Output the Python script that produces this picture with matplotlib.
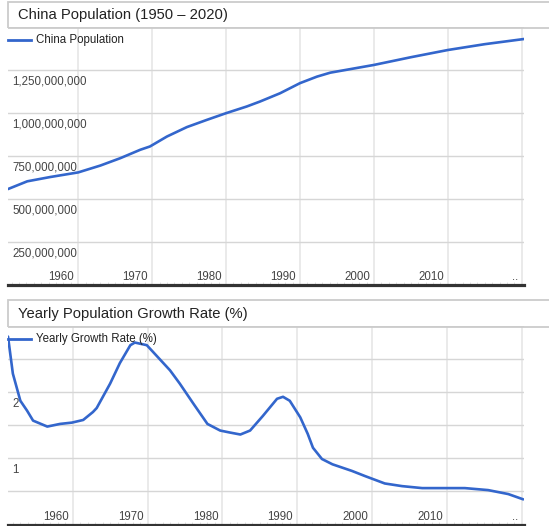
import matplotlib
matplotlib.use("Agg")
import matplotlib.pyplot as plt
from matplotlib.lines import Line2D
from matplotlib.patches import Rectangle
from matplotlib.ticker import MultipleLocator
from matplotlib.transforms import offset_copy

FIG_W, FIG_H = 549, 526
LINE_COLOR = "#3366cc"

# China population (people)
pop_years = [1950.5, 1953.1, 1956.2, 1960.0, 1963.0, 1965.7, 1968.4, 1969.7,
             1972.0, 1974.7, 1977.4, 1980.0, 1982.8, 1984.6, 1987.3, 1990.0,
             1992.3, 1994.1, 2000.0, 2005.0, 2010.0, 2015.0, 2020.3]
pop_values = [556e6, 601e6, 626e6, 653e6, 693e6, 736e6, 785e6, 804e6,
              862e6, 917e6, 959e6, 998e6, 1037e6, 1066e6, 1114e6, 1173e6,
              1211e6, 1234e6, 1279e6, 1324e6, 1366e6, 1400e6, 1430e6]

# yearly growth rate (%)
growth_years = [1951.35, 1952.0, 1953.0, 1953.9, 1954.7, 1956.6, 1958.3, 1959.9,
                1961.4, 1962.7, 1963.2, 1965.0, 1966.3, 1967.7, 1968.3, 1969.9,
                1973.0, 1974.3, 1976.1, 1978.0, 1979.7, 1981.0, 1982.4, 1983.7,
                1985.4, 1987.3, 1988.1, 1989.0, 1990.4, 1991.4, 1992.1, 1993.3,
                1994.7, 1997.3, 1999.1, 2001.7, 2004.0, 2006.7, 2010.2, 2012.4,
                2015.5, 2018.2, 2020.2]
growth_values = [2.84, 2.28, 1.87, 1.72, 1.57, 1.48, 1.52, 1.54,
                 1.58, 1.70, 1.76, 2.13, 2.44, 2.71, 2.75, 2.71,
                 2.33, 2.13, 1.83, 1.52, 1.42, 1.39, 1.36, 1.42,
                 1.64, 1.90, 1.93, 1.87, 1.62, 1.37, 1.16, 0.99,
                 0.91, 0.81, 0.73, 0.62, 0.58, 0.55, 0.55, 0.55,
                 0.52, 0.46, 0.38]

decade_ticks = [1960, 1970, 1980, 1990, 2000, 2010, 2020]
decade_labels = ["1960", "1970", "1980", "1990", "2000", "2010", ".."]

pop_ticks = [250e6, 500e6, 750e6, 1000e6, 1250e6]
pop_labels = ["250,000,000", "500,000,000", "750,000,000",
              "1,000,000,000", "1,250,000,000"]
growth_ticks = [1, 2]
growth_labels = ["1", "2"]


def fx(px):
    return px / FIG_W


def fy(py):
    return 1 - py / FIG_H


def draw_panel(fig, top, bottom, box_top, title, legend, x, y,
               xlim, ylim, ystep, yticks, ylabels):
    """Draw one Google-Charts-like panel; vertical positions in pixels."""
    # title box
    fig.add_artist(Rectangle((fx(8), fy(top + 1)), 1.2, (top + 1 - box_top) / FIG_H,
                             transform=fig.transFigure, fill=False,
                             edgecolor="#cccccc", linewidth=1.3))
    fig.text(fx(18), fy((box_top + top) / 2 + 1), title, fontsize=10.6,
             color="#222222", va="center", ha="left")

    ax = fig.add_axes([fx(8), fy(bottom), fx(516), (bottom - top) / FIG_H])
    ax.set_xlim(*xlim)
    ax.set_ylim(*ylim)
    ax.plot(x, y, color=LINE_COLOR, linewidth=1.9, solid_capstyle="round",
            solid_joinstyle="round", zorder=3)

    ax.set_xticks(decade_ticks)
    ax.xaxis.set_minor_locator(MultipleLocator(1))
    ax.yaxis.set_major_locator(MultipleLocator(ystep))
    ax.tick_params(which="major", length=0, labelbottom=False, labelleft=False)
    ax.tick_params(axis="x", which="minor", direction="in", length=2.2,
                   width=0.6, color="#dddddd")
    ax.tick_params(axis="y", which="minor", length=0)
    ax.grid(axis="y", color="#d6d6d6", linewidth=1.0)
    ax.grid(axis="x", color="#e6e6e6", linewidth=1.2)
    ax.set_axisbelow(True)
    for side in ("top", "left", "right"):
        ax.spines[side].set_visible(False)
    ax.spines["bottom"].set_color("#333333")
    ax.spines["bottom"].set_linewidth(2.3)

    ytrans = offset_copy(ax.get_yaxis_transform(), fig=fig, x=4, y=-6,
                         units="dots")
    for val, lab in zip(yticks, ylabels):
        ax.text(0, val, lab, transform=ytrans, fontsize=8.3, color="#444444",
                ha="left", va="top")
    xtrans = offset_copy(ax.get_xaxis_transform(), fig=fig, x=-4, y=5,
                         units="dots")
    for val, lab in zip(decade_ticks, decade_labels):
        ax.text(val, 0, lab, transform=xtrans, fontsize=8.3, color="#444444",
                ha="right", va="baseline")

    # legend in the top left corner
    ly = fy(top + 13)
    fig.add_artist(Line2D([fx(8), fx(31)], [ly, ly], transform=fig.transFigure,
                          color=LINE_COLOR, linewidth=2.0))
    fig.text(fx(36), ly, legend, fontsize=8.3, color="#222222",
             va="center", ha="left")
    return ax


def main():
    plt.rcParams["font.family"] = ["Liberation Sans", "DejaVu Sans"]
    fig = plt.figure(figsize=(FIG_W / 100, FIG_H / 100), dpi=100)
    fig.patch.set_facecolor("white")

    draw_panel(fig, top=27, bottom=284.5, box_top=2,
               title="China Population (1950 \u2013 2020)",
               legend="China Population", x=pop_years, y=pop_values,
               xlim=(1950.5, 2020.3), ylim=(0, 1.5e9), ystep=250e6,
               yticks=pop_ticks, ylabels=pop_labels)

    draw_panel(fig, top=326, bottom=524.5, box_top=300,
               title="Yearly Population Growth Rate (%)",
               legend="Yearly Growth Rate (%)", x=growth_years, y=growth_values,
               xlim=(1951.35, 2020.3), ylim=(0, 3), ystep=0.5,
               yticks=growth_ticks, ylabels=growth_labels)

    fig.savefig("out.png", dpi=100)


if __name__ == "__main__":
    main()
